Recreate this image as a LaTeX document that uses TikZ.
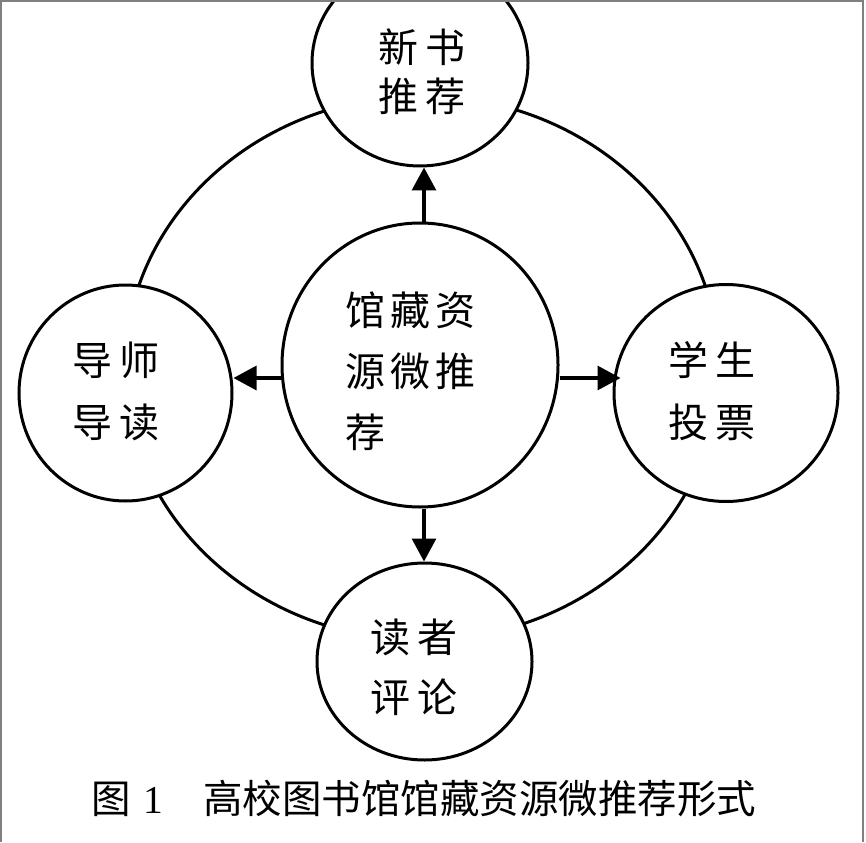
\documentclass[tikz,border=0pt]{standalone}
\usepackage{fontspec}
\setmainfont{Liberation Serif}
\newfontfamily\cjk{Noto Sans CJK SC}
\usetikzlibrary{shapes.geometric,arrows.meta}
\newcommand\zgap{\hspace{7pt}}
\newcommand\cgap{\hspace{5pt}}
\begin{document}
\begin{tikzpicture}[x=1pt,y=-1pt,
  ringline/.style={draw=black,line width=3pt},
  bubble/.style={ellipse,draw=black,line width=3pt,fill=white,inner sep=0pt},
  arr/.style={line width=3.2pt,-{Triangle[length=23pt,width=24pt]}},
  lbl/.style={inner sep=0pt,align=center,text=black}]
\useasboundingbox (0,0) rectangle (866,842);
\fill[white] (0,0) rectangle (866,842);
% outer ring
\node[ellipse,ringline,inner sep=0pt,minimum width=594pt,minimum height=544pt] (ring) at (422,368) {};
% small circles
\node[bubble,minimum width=216pt,minimum height=206pt] (t) at (420,63) {};
\node[bubble,minimum width=213pt,minimum height=216pt] (l) at (125.5,393) {};
\node[bubble,minimum width=224pt,minimum height=217pt] (r) at (726,393) {};
\node[bubble,minimum width=215pt,minimum height=197pt] (b) at (424.5,661.5) {};
% centre circle
\node[bubble,minimum width=276pt,minimum height=284pt] (c) at (420,365) {};
% arrows
\coordinate (vx) at (424,0);
\coordinate (hy) at (0,378);
\draw[arr] (c.north -| vx) -- (t.south -| vx);
\draw[arr] (c.south -| vx) -- (b.north -| vx);
\draw[arr] (c.west |- hy) -- (l.east |- hy);
\draw[arr,shorten >=-8pt] (c.east |- hy) -- (r.west |- hy);
% labels
\node[lbl,font=\cjk\fontsize{40}{49}\selectfont] (tt) at (422,72) {新\zgap 书\\推\zgap 荐};
\node[lbl,font=\cjk\fontsize{40}{62}\selectfont] (lt) at (116,391) {导\zgap 师\\导\zgap 读};
\node[lbl,font=\cjk\fontsize{40}{62}\selectfont] (rt) at (712,391) {学\zgap 生\\投\zgap 票};
\node[lbl,font=\cjk\fontsize{40}{60}\selectfont] (bt) at (414,667) {读\zgap 者\\评\zgap 论};
\node[lbl,align=left,font=\cjk\fontsize{40}{61}\selectfont] (ct) at (410,371) {馆\cgap 藏\cgap 资\\源\cgap 微\cgap 推\\荐};
% caption
\node[inner sep=0pt,font=\fontsize{39.5}{45}\selectfont] (cap) at (424,798) {{\cjk 图}\hspace{12pt}1\hspace{40pt}{\cjk 高校图书馆馆藏资源微推荐形式}};
% frame
\draw[black!50,line width=2pt] (1,842) -- (1,1) -- (863,1) -- (863,842);
\end{tikzpicture}
\end{document}
